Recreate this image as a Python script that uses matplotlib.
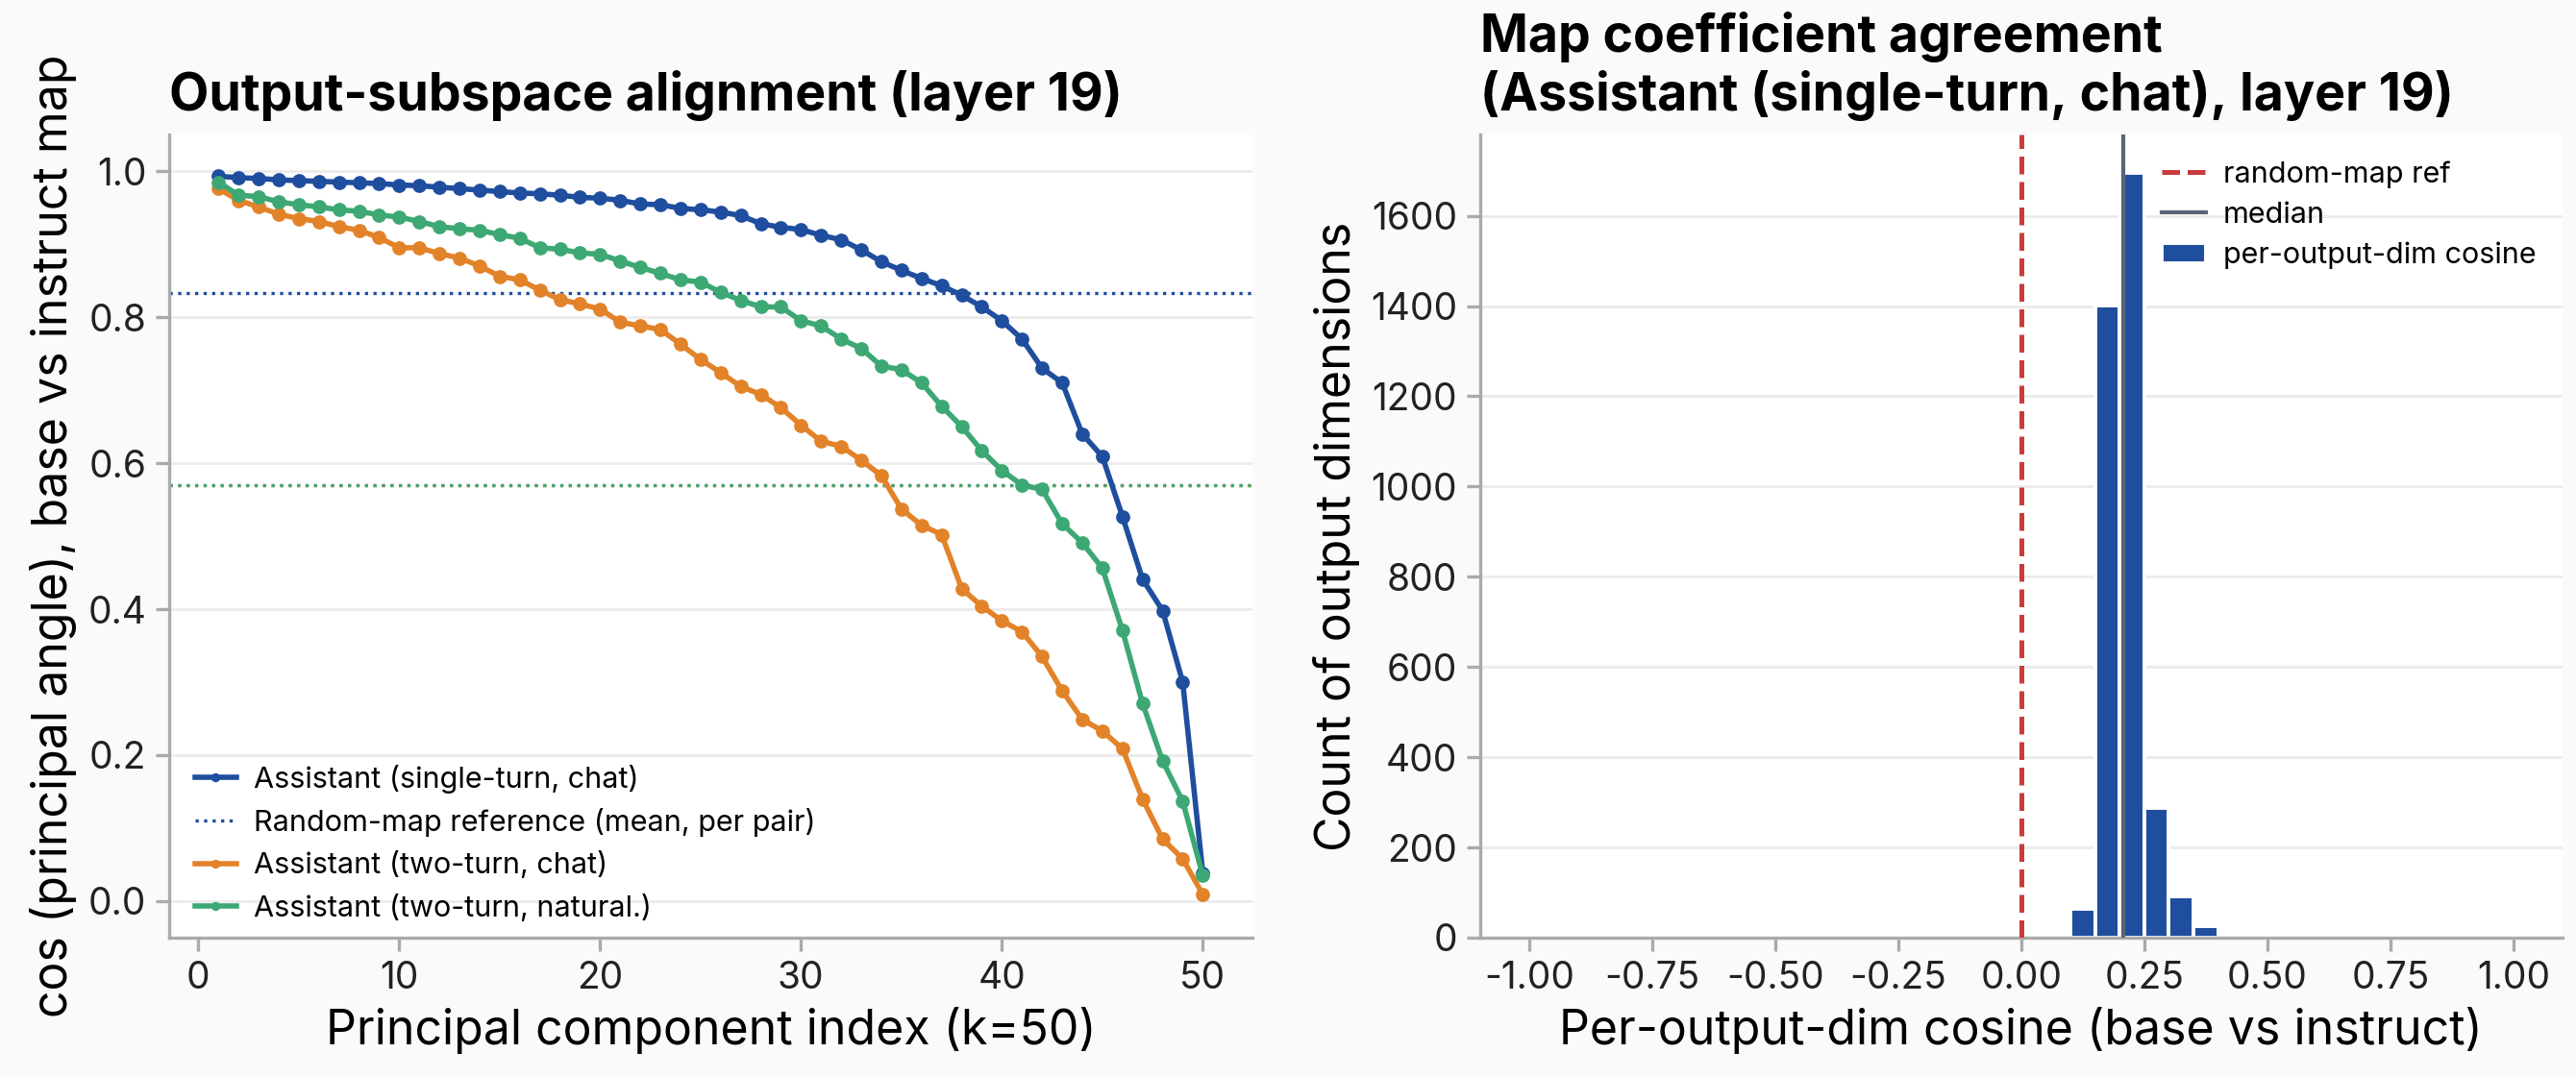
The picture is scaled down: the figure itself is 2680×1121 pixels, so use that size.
import numpy as np
import matplotlib
matplotlib.use('Agg')
import matplotlib.pyplot as plt

# principal angles, k = 1..50
k_index = list(range(1, 51))

single_turn_chat = [0.993, 0.991, 0.990, 0.988, 0.987, 0.986, 0.985, 0.984, 0.983, 0.981,
                    0.980, 0.978, 0.976, 0.974, 0.972, 0.970, 0.969, 0.967, 0.964, 0.963,
                    0.960, 0.955, 0.954, 0.949, 0.947, 0.944, 0.939, 0.928, 0.923, 0.920,
                    0.912, 0.906, 0.892, 0.876, 0.864, 0.853, 0.843, 0.830, 0.814, 0.795,
                    0.770, 0.730, 0.710, 0.640, 0.609, 0.527, 0.441, 0.398, 0.300, 0.038]

two_turn_chat = [0.976, 0.960, 0.951, 0.941, 0.935, 0.931, 0.924, 0.919, 0.909, 0.895,
                 0.895, 0.887, 0.881, 0.870, 0.856, 0.851, 0.837, 0.824, 0.818, 0.811,
                 0.793, 0.788, 0.783, 0.763, 0.742, 0.724, 0.705, 0.694, 0.676, 0.652,
                 0.630, 0.623, 0.604, 0.583, 0.537, 0.515, 0.502, 0.428, 0.404, 0.384,
                 0.369, 0.335, 0.288, 0.249, 0.233, 0.209, 0.140, 0.085, 0.058, 0.009]

two_turn_natural = [0.985, 0.967, 0.965, 0.958, 0.954, 0.951, 0.947, 0.945, 0.940, 0.937,
                    0.931, 0.924, 0.921, 0.919, 0.913, 0.908, 0.895, 0.893, 0.888, 0.886,
                    0.877, 0.868, 0.860, 0.851, 0.848, 0.834, 0.823, 0.814, 0.814, 0.795,
                    0.788, 0.770, 0.757, 0.733, 0.728, 0.710, 0.678, 0.650, 0.617, 0.590,
                    0.570, 0.564, 0.517, 0.491, 0.456, 0.371, 0.271, 0.192, 0.137, 0.035]

# random-map reference (mean, per pair)
ref_single_chat = 0.8335
ref_two_chat = 0.5700
ref_two_natural = 0.5693

# histogram of per-output-dim cosine
bin_left = [0.10, 0.15, 0.20, 0.25, 0.30, 0.35, 0.40]
bin_counts = [64, 1401, 1695, 288, 92, 26, 6]
bin_width = 0.05
median_cos = 0.207
random_map_ref = 0.0

BLUE = '#1f4e9e'
ORANGE = '#e2832a'
GREEN = '#3da874'
RED = '#c83c3c'
SLATE = '#5a6478'

params = {'font.family': ['Inter', 'DejaVu Sans'],
          'font.size': 13,
          'axes.titlesize': 19.3,
          'axes.titleweight': 'bold',
          'axes.titlepad': 9,
          'axes.labelsize': 18,
          'axes.edgecolor': '#aaaaaa',
          'axes.linewidth': 1.2,
          'axes.facecolor': 'white',
          'figure.facecolor': '#fafafa',
          'xtick.color': '#aaaaaa',
          'ytick.color': '#aaaaaa',
          'xtick.labelcolor': '#222222',
          'ytick.labelcolor': '#222222',
          'xtick.labelsize': 14,
          'ytick.labelsize': 14,
          'xtick.major.size': 5,
          'ytick.major.size': 5,
          'xtick.major.width': 1.2,
          'ytick.major.width': 1.2,
          'grid.color': '#ebebeb',
          'grid.linewidth': 1.0,
          'legend.fontsize': 11,
          }
plt.rcParams.update(params)

fig, (ax1, ax2) = plt.subplots(1, 2, figsize=(13.4, 5.605), dpi=200)
fig.subplots_adjust(left=0.0657, right=0.9948, bottom=0.1294, top=0.875, wspace=0.2104)

# ---- left: principal angles
ax1.plot(k_index, single_turn_chat, '-o', color=BLUE, lw=2.0, markersize=4.3,
         label='Assistant (single-turn, chat)', zorder=3)
ax1.axhline(ref_single_chat, color=BLUE, ls=':', lw=1.2,
            label='Random-map reference (mean, per pair)', zorder=2)
ax1.plot(k_index, two_turn_chat, '-o', color=ORANGE, lw=2.0, markersize=4.3,
         label='Assistant (two-turn, chat)', zorder=3)
ax1.axhline(ref_two_chat, color=ORANGE, ls=':', lw=1.2, zorder=2)
ax1.plot(k_index, two_turn_natural, '-o', color=GREEN, lw=2.0, markersize=4.3,
         label='Assistant (two-turn, natural.)', zorder=3)
ax1.axhline(ref_two_natural, color=GREEN, ls=':', lw=1.2, zorder=2)

ax1.set_xlim(-1.45, 52.45)
ax1.set_ylim(-0.05, 1.05)
ax1.set_xticks([0, 10, 20, 30, 40, 50])
ax1.set_yticks([0.0, 0.2, 0.4, 0.6, 0.8, 1.0])
ax1.yaxis.grid(True)
ax1.set_axisbelow(True)
ax1.spines['top'].set_visible(False)
ax1.spines['right'].set_visible(False)
ax1.set_xlabel('Principal component index (k=50)')
ax1.set_ylabel('cos (principal angle), base vs instruct map')
ax1.set_title('Output-subspace alignment (layer 19)', loc='left')
leg = ax1.legend(loc='lower left', bbox_to_anchor=(0.013, 0.005), borderaxespad=0,
                 frameon=False, markerscale=0.55, handlelength=1.4,
                 handletextpad=0.6, labelspacing=0.5)

# ---- right: map coefficient histogram
ax2.bar(bin_left, bin_counts, width=bin_width, align='edge', color=BLUE,
        edgecolor='white', linewidth=1.4, label='per-output-dim cosine', zorder=2)
ax2.axvline(random_map_ref, color=RED, ls='--', lw=1.8, label='random-map ref', zorder=3)
ax2.axvline(median_cos, color=SLATE, ls='-', lw=1.5, label='median', zorder=3)

ax2.set_xlim(-1.1, 1.1)
ax2.set_ylim(0, 1780)
ax2.set_xticks(np.arange(-1.0, 1.01, 0.25))
ax2.set_yticks(range(0, 1601, 200))
ax2.xaxis.set_major_formatter(matplotlib.ticker.FormatStrFormatter('%.2f'))
ax2.yaxis.grid(True)
ax2.set_axisbelow(True)
ax2.spines['top'].set_visible(False)
ax2.spines['right'].set_visible(False)
ax2.set_xlabel('Per-output-dim cosine (base vs instruct)')
ax2.set_ylabel('Count of output dimensions')
ax2.set_title('Map coefficient agreement\n(Assistant (single-turn, chat), layer 19)', loc='left')
handles, labels = ax2.get_legend_handles_labels()
order = [labels.index('random-map ref'), labels.index('median'), labels.index('per-output-dim cosine')]
ax2.legend([handles[i] for i in order], [labels[i] for i in order],
           loc='upper right', frameon=False, fontsize=11, handlelength=1.5,
           handletextpad=0.6, labelspacing=0.45)

fig.savefig('out.png', dpi=200, facecolor=fig.get_facecolor())
